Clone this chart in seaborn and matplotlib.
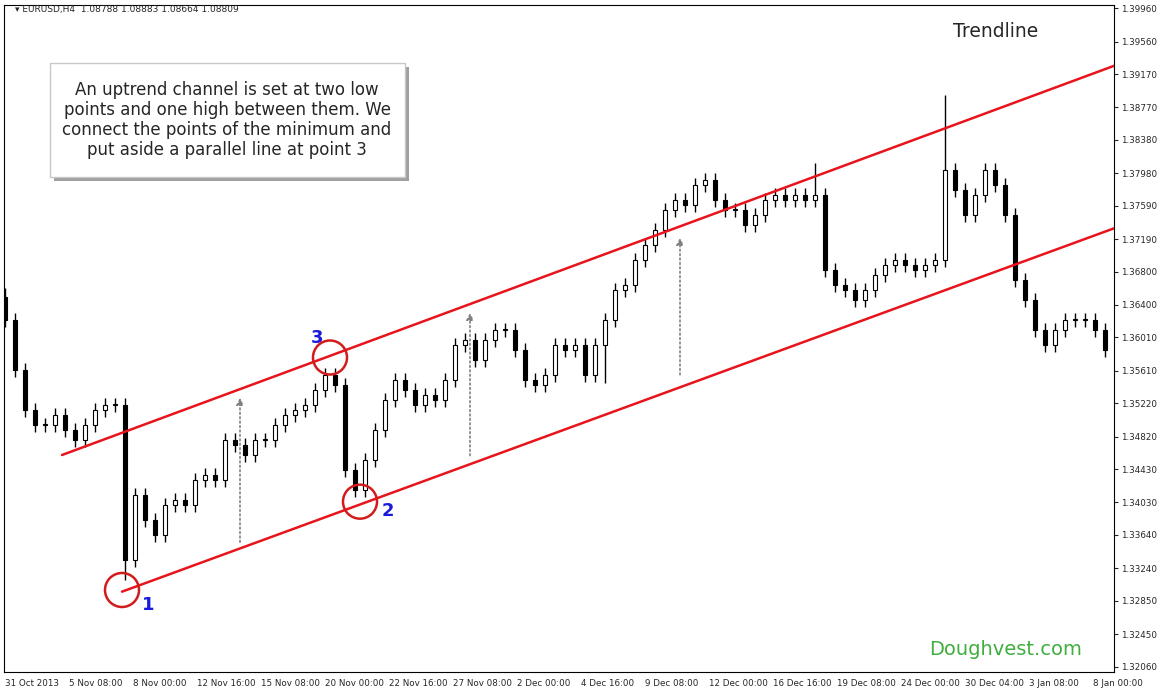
import numpy as np
import matplotlib.pyplot as plt
import seaborn as sns
from matplotlib.patches import FancyBboxPatch

closes = [1.3622, 1.3562, 1.3514, 1.3496, 1.3496, 1.3508, 1.3490, 1.3478, 1.3496, 1.3514,
          1.3520, 1.3520, 1.3334, 1.3412, 1.3382, 1.3364, 1.3400, 1.3406, 1.3400, 1.3430,
          1.3436, 1.3430, 1.3478, 1.3472, 1.3460, 1.3478, 1.3478, 1.3496, 1.3508, 1.3514,
          1.3520, 1.3538, 1.3556, 1.3544, 1.3442, 1.3418, 1.3454, 1.3490, 1.3526, 1.3550,
          1.3538, 1.3520, 1.3532, 1.3526, 1.3550, 1.3592, 1.3598, 1.3574, 1.3598, 1.3610,
          1.3610, 1.3586, 1.3550, 1.3544, 1.3556, 1.3592, 1.3586, 1.3592, 1.3556, 1.3592,
          1.3622, 1.3658, 1.3664, 1.3694, 1.3712, 1.3730, 1.3754, 1.3766, 1.3760, 1.3784,
          1.3790, 1.3766, 1.3754, 1.3754, 1.3736, 1.3748, 1.3766, 1.3772, 1.3766, 1.3772,
          1.3766, 1.3772, 1.3682, 1.3664, 1.3658, 1.3646, 1.3658, 1.3676, 1.3688, 1.3694,
          1.3688, 1.3682, 1.3688, 1.3694, 1.3802, 1.3778, 1.3748, 1.3772, 1.3802, 1.3784,
          1.3748, 1.3670, 1.3646, 1.3610, 1.3592, 1.3610, 1.3622, 1.3622, 1.3622, 1.3610,
          1.3586]
first_open = 1.3650
spike_idx = [0, 12, 60, 94, 81]
spike_high = [1.3660, None, None, 1.3892, 1.3810]
spike_low = [None, 1.3310, 1.3546, None, None]

y_ticks = [1.39960, 1.39560, 1.39170, 1.38770, 1.38380, 1.37980, 1.37590, 1.37190,
           1.36800, 1.36400, 1.36010, 1.35610, 1.35220, 1.34820, 1.34430, 1.34030,
           1.33640, 1.33240, 1.32850, 1.32450, 1.32060]
x_labels = ["31 Oct 2013", "5 Nov 08:00", "8 Nov 00:00", "12 Nov 16:00", "15 Nov 08:00",
            "20 Nov 00:00", "22 Nov 16:00", "27 Nov 08:00", "2 Dec 00:00", "4 Dec 16:00",
            "9 Dec 08:00", "12 Dec 00:00", "16 Dec 16:00", "19 Dec 08:00", "24 Dec 00:00",
            "30 Dec 04:00", "3 Jan 08:00", "8 Jan 00:00"]

lower_line = ([11.7, 110.9], [1.3296, 1.3732])
upper_line = ([5.7, 110.9], [1.3460, 1.3927])
circles = ([11.7, 35.5, 32.5], [1.3298, 1.3404, 1.3577])
arrows = [(23.5, 1.3352, 1.3532), (46.5, 1.3456, 1.3634), (67.5, 1.3553, 1.3724)]

sns.set_style("white")
fig = plt.figure(figsize=(11.6, 6.92), dpi=100)
ax = fig.add_axes([4 / 1160, 20 / 692, 1110 / 1160, 667 / 692])

opens = [first_open] + closes[:-1]
highs = [max(o, c) + 0.0008 for o, c in zip(opens, closes)]
lows = [min(o, c) - 0.0008 for o, c in zip(opens, closes)]
for i, h, l in zip(spike_idx, spike_high, spike_low):
    if h is not None:
        highs[i] = h
    if l is not None:
        lows[i] = l

x = np.arange(len(closes))
ax.vlines(x, lows, highs, color="black", lw=1, zorder=2)
for xi, o, c in zip(x, opens, closes):
    up = c >= o
    ax.bar(xi, max(abs(c - o), 0.00008), bottom=min(o, c), width=0.42,
           color="white" if up else "black", edgecolor="black", lw=0.8, zorder=3)

ax.plot(*lower_line, color="#e8141c", lw=1.8, zorder=4)
ax.plot(*upper_line, color="#e8141c", lw=1.8, zorder=4)
ax.scatter(*circles, s=600, facecolors="none", edgecolors="#d21c1c", lw=1.8, zorder=5)
for xa, y0, y1 in arrows:
    ax.annotate("", xy=(xa, y1), xytext=(xa, y0),
                arrowprops=dict(arrowstyle="-|>", color="gray", ls=":", lw=1.2))
for t, xx, yy in [("1", 14.3, 1.3280), ("2", 38.3, 1.3393), ("3", 31.2, 1.3600)]:
    ax.text(xx, yy, t, color="#1a1adc", fontsize=13, fontweight="bold", ha="center", va="center")

ax.set_xlim(-0.1, 110.9)
ax.set_ylim(1.31996, 1.4000)
ax.yaxis.tick_right()
ax.set_yticks(y_ticks)
ax.set_yticklabels([f"{v:.5f}" for v in y_ticks], fontsize=6.3)
ax.set_xticks(np.arange(len(x_labels)) * 6.4)
ax.set_xticklabels(x_labels, fontsize=6.3, ha="left")
ax.tick_params(length=3, direction="out", pad=2)
for s in ax.spines.values():
    s.set_color("black")
    s.set_linewidth(0.8)

fig.text(0.013, 0.983, "\u25be EURUSD,H4  1.08788 1.08883 1.08664 1.08809", fontsize=6.5)
fig.text(0.858, 0.955, "Trendline", fontsize=13.5, ha="center", va="center")
fig.text(0.867, 0.061, "Doughvest.com", fontsize=14, color="#3fae3f", ha="center", va="center")

shadow = FancyBboxPatch((54 / 1160, 1 - 181 / 692), 355 / 1160, 114 / 692,
                        boxstyle="square,pad=0", transform=fig.transFigure,
                        fc="#a0a0a0", ec="none", zorder=5)
box = FancyBboxPatch((50 / 1160, 1 - 177 / 692), 355 / 1160, 114 / 692,
                     boxstyle="square,pad=0", transform=fig.transFigure,
                     fc="white", ec="#c8c8c8", zorder=6)
fig.patches.extend([shadow, box])
fig.text(227 / 1160, 1 - 120 / 692,
         "An uptrend channel is set at two low\npoints and one high between them. We\n"
         "connect the points of the minimum and\nput aside a parallel line at point 3",
         fontsize=12, ha="center", va="center", linespacing=1.15, zorder=7)

fig.savefig("out.png", dpi=100)
